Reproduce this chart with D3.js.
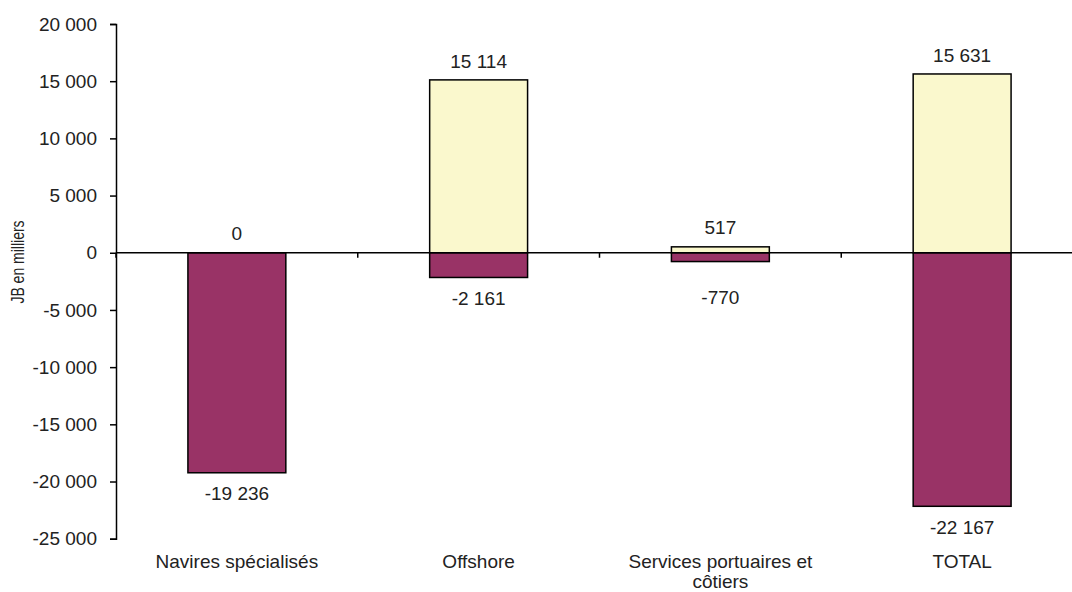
<!DOCTYPE html>
<html>
<head>
<meta charset="utf-8">
<script src="https://cdn.jsdelivr.net/npm/d3@7"></script>
<style>
  body { margin: 0; background: #fff; }
  svg { display: block; font-family: "Liberation Sans", Arial, sans-serif; }
  .lbl { fill: #222; font-size: 19px; }
</style>
</head>
<body>
<svg width="1072" height="592"></svg>
<script>
const categories = ["Navires spécialisés", "Offshore", "Services portuaires et|côtiers", "TOTAL"];
const positives = [0, 15114, 517, 15631];
const negatives = [-19236, -2161, -770, -22167];
const yTicks = [20000, 15000, 10000, 5000, 0, -5000, -10000, -15000, -20000, -25000];

const fr = d3.formatLocale({decimal: ",", thousands: " ", grouping: [3], currency: ["", ""], minus: "-"});
const fmt = fr.format(",d");

const svg = d3.select("svg");
const mLeft = 116, mRight = 1083, mTop = 24, mBottom = 538.7;

const y = d3.scaleLinear().domain([-25000, 20000]).range([mBottom, mTop]);
const x = d3.scaleBand().domain(categories).range([mLeft, mRight])
    .paddingInner(0.595).paddingOuter(0.2975);

const data = categories.map((c, i) => ({cat: c, pos: positives[i], neg: negatives[i]}));

// bars
const g = svg.append("g");
g.selectAll("rect.pos").data(data).enter().append("rect")
    .attr("class", "pos")
    .attr("x", d => x(d.cat))
    .attr("width", x.bandwidth())
    .attr("y", d => y(d.pos))
    .attr("height", d => y(0) - y(d.pos))
    .attr("fill", "#FAF8CD").attr("stroke", "#000").attr("stroke-width", 1.5);

g.selectAll("rect.neg").data(data).enter().append("rect")
    .attr("class", "neg")
    .attr("x", d => x(d.cat))
    .attr("width", x.bandwidth())
    .attr("y", y(0))
    .attr("height", d => y(d.neg) - y(0))
    .attr("fill", "#993366").attr("stroke", "#000").attr("stroke-width", 1.5);

// zero line with category ticks
svg.append("line")
    .attr("x1", mLeft).attr("x2", mRight).attr("y1", y(0)).attr("y2", y(0))
    .attr("stroke", "#000").attr("stroke-width", 1.5);
const step = x.step();
svg.selectAll("line.ctick").data(d3.range(categories.length + 1)).enter().append("line")
    .attr("class", "ctick")
    .attr("x1", i => mLeft + i * step).attr("x2", i => mLeft + i * step)
    .attr("y1", y(0)).attr("y2", y(0) + 5)
    .attr("stroke", "#000").attr("stroke-width", 1.5);

// y axis
const yAxis = svg.append("g")
    .attr("transform", `translate(${mLeft},0)`)
    .call(d3.axisLeft(y).tickValues(yTicks).tickFormat(fmt).tickSize(6).tickPadding(13));
yAxis.select(".domain").attr("stroke", "#000").attr("stroke-width", 1.5);
yAxis.selectAll(".tick line").attr("stroke", "#000").attr("stroke-width", 1.5);
yAxis.selectAll(".tick text").attr("class", "lbl").style("font-family", "inherit");

// value labels
svg.selectAll("text.vpos").data(data).enter().append("text")
    .attr("class", "lbl")
    .attr("text-anchor", "middle")
    .attr("x", d => x(d.cat) + x.bandwidth() / 2)
    .attr("y", d => y(d.pos) - 19)
    .attr("dy", "0.35em")
    .text(d => fmt(d.pos));

svg.selectAll("text.vneg").data(data).enter().append("text")
    .attr("class", "lbl")
    .attr("text-anchor", "middle")
    .attr("x", d => x(d.cat) + x.bandwidth() / 2)
    .attr("y", d => Math.max(y(d.neg) + 21, y(0) + 45))
    .attr("dy", "0.35em")
    .text(d => fmt(d.neg));

// category labels
const cl = svg.selectAll("text.cat").data(categories).enter().append("text")
    .attr("class", "lbl")
    .attr("text-anchor", "middle")
    .attr("x", d => x(d) + x.bandwidth() / 2)
    .attr("y", 568);
cl.selectAll("tspan").data(d => d.split("|")).enter().append("tspan")
    .attr("x", function () { return d3.select(this.parentNode).attr("x"); })
    .attr("dy", (d, i) => i === 0 ? 0 : 20)
    .text(d => d);

// y title
svg.append("text")
    .attr("class", "lbl")
    .style("font-size", "14px")
    .attr("text-anchor", "middle")
    .attr("transform", "translate(24,262) rotate(-90) scale(1,1.35)")
    .text("JB en milliers");
</script>
</body>
</html>
